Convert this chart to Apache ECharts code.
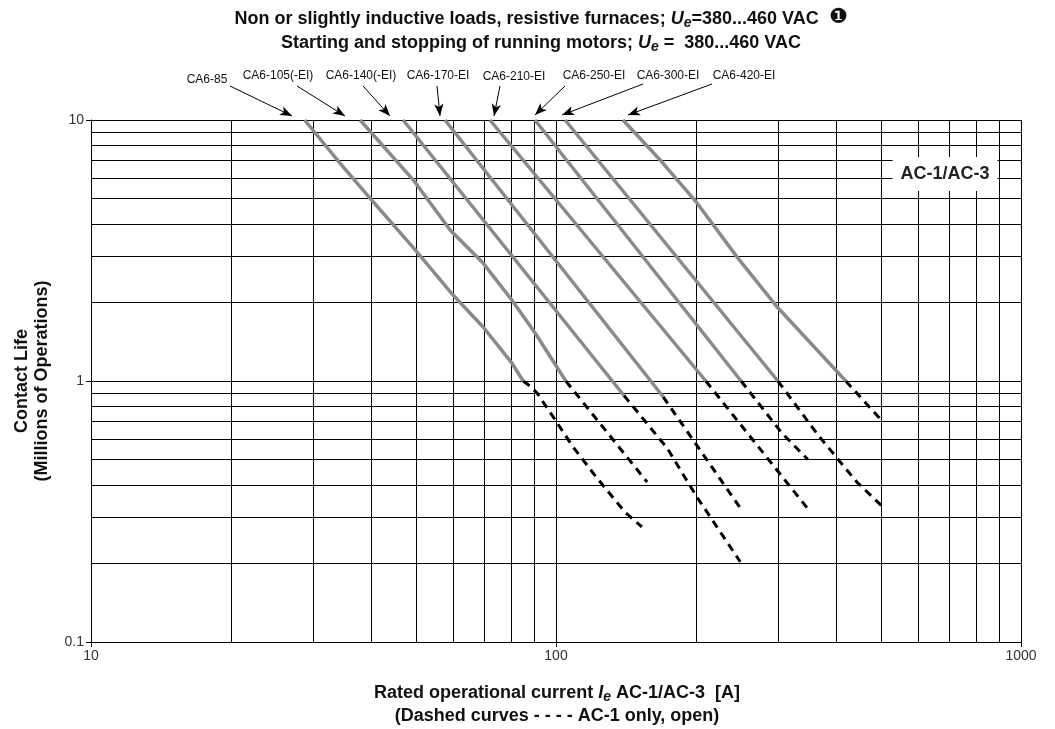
<!DOCTYPE html>
<html><head><meta charset="utf-8">
<script src="https://cdn.jsdelivr.net/npm/echarts@6/dist/echarts.min.js"></script>
<style>html,body{margin:0;padding:0;background:#fff}#c{width:1055px;height:729px}</style>
</head><body><div id="c"></div>
<script>
// ---- data ----
const xTickLabels = ['10', '100', '1000'];
const yTickLabels = ['0.1', '1', '10'];
const xMinorGrid = [20, 30, 40, 50, 60, 70, 80, 90, 200, 300, 400, 500, 600, 700, 800, 900];
const yMinorGrid = [0.2, 0.3, 0.4, 0.5, 0.6, 0.7, 0.8, 0.9, 2, 3, 4, 5, 6, 7, 8, 9];
const modelNames = ['CA6-85', 'CA6-105(-EI)', 'CA6-140(-EI)', 'CA6-170-EI', 'CA6-210-EI', 'CA6-250-EI', 'CA6-300-EI', 'CA6-420-EI'];

// AC-1/AC-3 (solid) curves: [current A, millions of operations]
const ca6_85_ac3  = [[28.8, 10], [34.3, 6.84], [39.8, 5.02], [49.8, 3.18], [60, 2.14], [69.7, 1.61], [80.4, 1.17], [85, 1.0]];
const ca6_105_ac3 = [[37.9, 10], [49.3, 5.9], [59.2, 3.79], [69.7, 2.83], [80.4, 2.04], [90.1, 1.53], [105, 1.0]];
const ca6_140_ac3 = [[46.9, 10], [140, 0.88]];
const ca6_170_ac3 = [[57.7, 10], [170, 0.87]];
const ca6_210_ac3 = [[72.1, 10], [210, 1.0]];
const ca6_250_ac3 = [[90.1, 10], [250, 1.0]];
const ca6_300_ac3 = [[104.6, 10], [300, 1.0]];
const ca6_420_ac3 = [[139.3, 10], [169, 6.9], [201, 4.81], [245, 2.99], [299, 1.92], [420, 1.0]];

// AC-1 only (dashed) continuations
const ca6_85_ac1  = [[85, 1.0], [87.9, 0.957], [91, 0.9], [98, 0.741], [108.8, 0.559], [122.5, 0.425], [140.6, 0.315], [153, 0.276]];
const ca6_105_ac1 = [[105, 1.0], [157, 0.41]];
const ca6_140_ac1 = [[140, 0.88], [173.3, 0.554], [201, 0.359], [249, 0.203]];
const ca6_170_ac1 = [[170, 0.87], [250, 0.323]];
const ca6_210_ac1 = [[210, 1.0], [347, 0.326]];
const ca6_250_ac1 = [[250, 1.0], [306, 0.632], [348, 0.50]];
const ca6_300_ac1 = [[300, 1.0], [366, 0.621], [443.6, 0.41], [502, 0.332]];
const ca6_420_ac1 = [[420, 1.0], [500, 0.71]];

const solidCurves = [ca6_85_ac3, ca6_105_ac3, ca6_140_ac3, ca6_170_ac3, ca6_210_ac3, ca6_250_ac3, ca6_300_ac3, ca6_420_ac3];
const dashedCurves = [ca6_85_ac1, ca6_105_ac1, ca6_140_ac1, ca6_170_ac1, ca6_210_ac1, ca6_250_ac1, ca6_300_ac1, ca6_420_ac1];

// ---- layout (annotation placement, pixels) ----
const labelPos = [[207, 80], [278, 76], [361, 76], [438, 76], [514, 77], [594, 76], [668, 76], [744, 76]];
const arrowPos = [
  [[230, 86], [292, 116]], [[297, 86], [345, 116]], [[363, 86], [390, 116]], [[437, 86], [440, 116]],
  [[500, 86], [494, 116]], [[565, 86], [535, 115]], [[643, 84], [562, 115]], [[712, 84], [628, 115]]
];

const FONT = 'Liberation Sans, Arial, Helvetica, sans-serif';
const chart = echarts.init(document.getElementById('c'));

const series = [];
series.push({
  type: 'line', data: [], silent: true, z: 1,
  markLine: {
    silent: true, symbol: 'none', animation: false,
    label: { show: false },
    lineStyle: { color: '#000', width: 1, type: 'solid' },
    emphasis: { disabled: true },
    data: xMinorGrid.map(v => ({ xAxis: v })).concat(yMinorGrid.map(v => ({ yAxis: v })))
  }
});
solidCurves.forEach((d, i) => {
  series.push({
    name: modelNames[i] + ' AC-1/AC-3', type: 'line', data: d, showSymbol: false, z: 5,
    lineStyle: { color: '#8a8a8a', width: 3.5, cap: 'butt', join: 'round' }, animation: false, silent: true
  });
});
dashedCurves.forEach((d, i) => {
  series.push({
    name: modelNames[i] + ' AC-1', type: 'line', data: d, showSymbol: false, z: 4,
    lineStyle: { color: '#000', width: 3, type: [8, 6], cap: 'butt' }, animation: false, silent: true
  });
});
series.push({
  type: 'line', data: [], silent: true, z: 6,
  markLine: {
    silent: true, animation: false, symbol: ['none', 'arrow'], symbolSize: [7, 12],
    label: { show: false }, emphasis: { disabled: true },
    lineStyle: { color: '#000', width: 1, type: 'solid' },
    data: arrowPos.map(p => [{ x: p[0][0], y: p[0][1] }, { x: p[1][0], y: p[1][1] }])
  }
});

const graphics = [];
modelNames.forEach((n, i) => {
  graphics.push({ type: 'text', x: labelPos[i][0], y: labelPos[i][1], silent: true,
    style: { text: n, fontSize: 12, fontFamily: FONT, fill: '#111', align: 'center', verticalAlign: 'middle' } });
});
const richT = {
  u: { fontStyle: 'italic', fontWeight: 'bold', fontSize: 18, fontFamily: FONT, fill: '#111' },
  e: { fontStyle: 'italic', fontWeight: 'bold', fontSize: 14, fontFamily: FONT, fill: '#111', padding: [8, 0, 0, 0] },
  c: { fontSize: 21, fontFamily: 'DejaVu Sans', fill: '#111', padding: [0, 0, 2, 0] }
};
graphics.push({ type: 'text', x: 541, y: 19, silent: true,
  style: { text: 'Non or slightly inductive loads, resistive furnaces; {u|U}{e|e}=380...460 VAC  {c|❶}',
    fontSize: 18, fontWeight: 'bold', fontFamily: FONT, fill: '#111', align: 'center', verticalAlign: 'middle', rich: richT } });
graphics.push({ type: 'text', x: 541, y: 43, silent: true,
  style: { text: 'Starting and stopping of running motors; {u|U}{e|e} =  380...460 VAC',
    fontSize: 18, fontWeight: 'bold', fontFamily: FONT, fill: '#111', align: 'center', verticalAlign: 'middle', rich: richT } });
graphics.push({ type: 'text', x: 557, y: 693, silent: true,
  style: { text: 'Rated operational current {u|I}{e|e} AC-1/AC-3  [A]',
    fontSize: 18, fontWeight: 'bold', fontFamily: FONT, fill: '#111', align: 'center', verticalAlign: 'middle', rich: richT } });
graphics.push({ type: 'text', x: 557, y: 716, silent: true,
  style: { text: '(Dashed curves - - - - AC-1 only, open)',
    fontSize: 18, fontWeight: 'bold', fontFamily: FONT, fill: '#111', align: 'center', verticalAlign: 'middle' } });
graphics.push({ type: 'text', x: 32, y: 381, rotation: Math.PI / 2, silent: true,
  style: { text: 'Contact Life\n(Millions of Operations)', lineHeight: 20,
    fontSize: 18, fontWeight: 'bold', fontFamily: FONT, fill: '#111', align: 'center', verticalAlign: 'middle' } });
graphics.push({ type: 'text', x: 945, y: 174, silent: true, z: 100,
  style: { text: 'AC-1/AC-3', fontSize: 18, fontWeight: 'bold', fontFamily: FONT, fill: '#222',
    align: 'center', verticalAlign: 'middle', backgroundColor: '#fff', padding: [8, 8, 8, 8] } });

chart.setOption({
  animation: false,
  backgroundColor: '#fff',
  grid: { left: 91, right: 34, top: 120, bottom: 87, containLabel: false },
  xAxis: {
    type: 'log', logBase: 10, min: 10, max: 1000,
    axisLine: { lineStyle: { color: '#000', width: 1 } },
    axisTick: { show: true, inside: false, length: 5, lineStyle: { color: '#000' } },
    axisLabel: { fontSize: 14, fontFamily: FONT, color: '#333', margin: 7,
      formatter: v => xTickLabels.find(t => Math.abs(+t - v) < 1e-6 * v) || '' },
    splitLine: { show: true, lineStyle: { color: '#000', width: 1 } },
    minorTick: { show: false }
  },
  yAxis: {
    type: 'log', logBase: 10, min: 0.1, max: 10,
    axisLine: { show: true, lineStyle: { color: '#000', width: 1 } },
    axisTick: { show: true, inside: false, length: 5, lineStyle: { color: '#000' } },
    axisLabel: { fontSize: 14, fontFamily: FONT, color: '#333', margin: 7,
      formatter: v => yTickLabels.find(t => Math.abs(+t - v) < 1e-6 * v) || '' },
    splitLine: { show: true, lineStyle: { color: '#000', width: 1 } }
  },
  graphic: graphics,
  series: series
});
</script></body></html>
